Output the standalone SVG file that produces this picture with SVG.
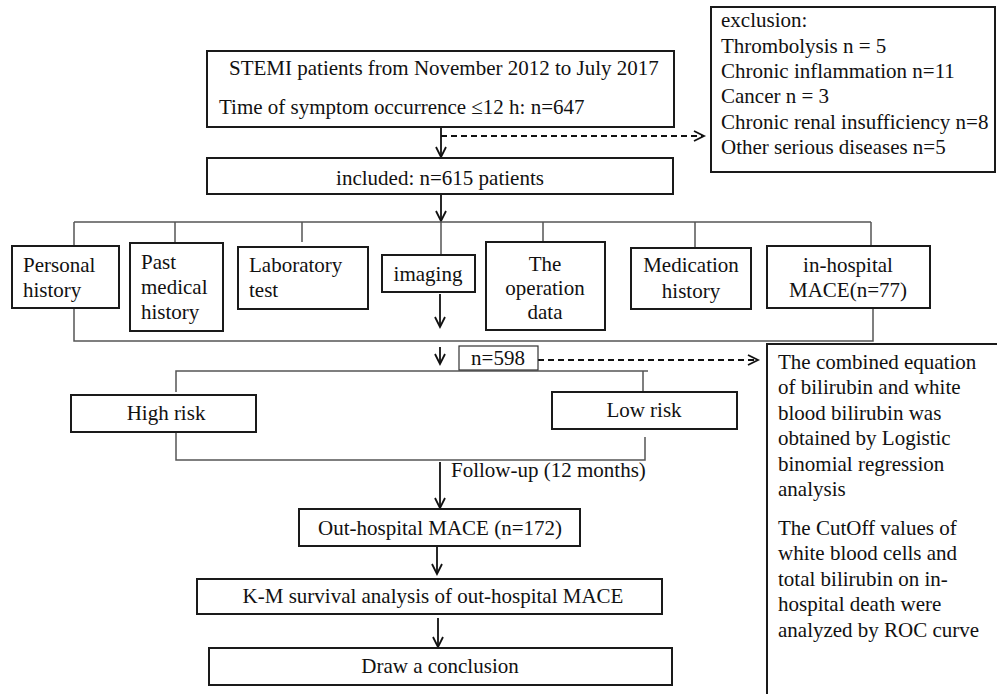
<svg xmlns="http://www.w3.org/2000/svg" width="997" height="694" viewBox="0 0 997 694">
<defs>
<marker id="arr" markerUnits="userSpaceOnUse" markerWidth="14" markerHeight="14" refX="11" refY="6" orient="auto">
<path d="M1,1 L11,6 L1,11" fill="none" stroke="#111" stroke-width="1.8"/>
</marker>
</defs>
<style>
.box{fill:#fff;stroke:#1a1a1a;stroke-width:2}
.thin{fill:#fff;stroke:#333;stroke-width:1.2}
.ln{fill:none;stroke:#555;stroke-width:1.5}
.ar{fill:none;stroke:#111;stroke-width:1.8}
.da{fill:none;stroke:#111;stroke-width:1.8;stroke-dasharray:6 4}
text{font-family:'Liberation Serif','DejaVu Serif',serif;font-size:21px;fill:#111}
.m{text-anchor:middle}
</style>
<rect width="997" height="694" fill="#fff"/>
<g id="connectors">
<line class="ar" x1="441" y1="127" x2="441" y2="157" marker-end="url(#arr)"/>
<line class="da" x1="441" y1="136" x2="704" y2="136" marker-end="url(#arr)"/>
<line class="ar" x1="441" y1="194" x2="441" y2="221" marker-end="url(#arr)"/>
<path class="ln" d="M74,222 H871"/>
<path class="ln" d="M74,222 V246 M175,222 V243 M302,222 V242 M441,222 V255 M543,222 V241 M695,222 V247 M871,222 V246"/>
<path class="ln" d="M74,308 V341 H873 V308"/>
<line class="ar" x1="440" y1="294" x2="440" y2="327" marker-end="url(#arr)"/>
<line class="ar" x1="440" y1="347" x2="440" y2="364" marker-end="url(#arr)"/>
<line class="da" x1="538" y1="360" x2="758" y2="360" marker-end="url(#arr)"/>
<path class="ln" d="M176,392 V371 H648 M643,371 V392"/>
<path class="ln" d="M176,432 V460 H645 V437"/>
<line class="ar" x1="440" y1="462" x2="440" y2="508" marker-end="url(#arr)"/>
<line class="ar" x1="437" y1="546" x2="437" y2="574" marker-end="url(#arr)"/>
<line class="ar" x1="438" y1="618" x2="438" y2="647" marker-end="url(#arr)"/>
</g>
<g id="start">
<rect class="box" x="207" y="51" width="467" height="76"/>
<text x="229" y="75">STEMI patients from November 2012 to July 2017</text>
<text x="219" y="114">Time of symptom occurrence ≤12 h: n=647</text>
</g>
<g id="exclusion">
<rect class="box" x="711" y="7" width="284" height="165"/>
<text x="721" y="27">exclusion:</text>
<text x="721" y="53">Thrombolysis n = 5</text>
<text x="721" y="78">Chronic inflammation n=11</text>
<text x="721" y="103">Cancer n = 3</text>
<text x="721" y="129">Chronic renal insufficiency n=8</text>
<text x="721" y="154">Other serious diseases n=5</text>
</g>
<g id="included">
<rect class="box" x="207" y="158" width="466" height="36"/>
<text class="m" x="440" y="185">included: n=615 patients</text>
</g>
<g id="personal">
<rect class="box" x="12" y="246" width="107" height="62"/>
<text x="23" y="272">Personal</text>
<text x="23" y="297">history</text>
</g>
<g id="past">
<rect class="box" x="130" y="243" width="93" height="88"/>
<text x="141" y="269">Past</text>
<text x="141" y="294">medical</text>
<text x="141" y="319">history</text>
</g>
<g id="lab">
<rect class="box" x="238" y="247" width="130" height="62"/>
<text x="249" y="272">Laboratory</text>
<text x="249" y="297">test</text>
</g>
<g id="imaging">
<rect class="box" x="382" y="255" width="93" height="37"/>
<text class="m" x="428" y="281">imaging</text>
</g>
<g id="operation">
<rect class="box" x="486" y="242" width="119" height="88"/>
<text class="m" x="545" y="271">The</text>
<text class="m" x="545" y="295">operation</text>
<text class="m" x="545" y="319">data</text>
</g>
<g id="medication">
<rect class="box" x="631" y="248" width="120" height="61"/>
<text class="m" x="691" y="272">Medication</text>
<text class="m" x="691" y="298">history</text>
</g>
<g id="inhospital">
<rect class="box" x="767" y="246" width="163" height="62"/>
<text class="m" x="848" y="272">in-hospital</text>
<text class="m" x="848" y="297">MACE(n=77)</text>
</g>
<g id="n598">
<rect class="thin" x="459" y="346" width="79" height="24"/>
<text class="m" x="498" y="365">n=598</text>
</g>
<g id="analysis">
<rect class="box" x="767" y="344" width="250" height="380"/>
<text x="778" y="369">The combined equation</text>
<text x="778" y="394">of bilirubin and white</text>
<text x="778" y="420">blood bilirubin was</text>
<text x="778" y="445">obtained by Logistic</text>
<text x="778" y="471">binomial regression</text>
<text x="778" y="496">analysis</text>
<text x="778" y="535">The CutOff values of</text>
<text x="778" y="560">white blood cells and</text>
<text x="778" y="586">total bilirubin on in-</text>
<text x="778" y="611">hospital death were</text>
<text x="778" y="637">analyzed by ROC curve</text>
</g>
<g id="high">
<rect class="box" x="71" y="395" width="185" height="37"/>
<text class="m" x="166" y="420">High risk</text>
</g>
<g id="low">
<rect class="box" x="552" y="392" width="185" height="37"/>
<text class="m" x="644" y="417">Low risk</text>
</g>
<text x="451" y="477">Follow-up (12 months)</text>
<g id="outhospital">
<rect class="box" x="299" y="509" width="281" height="37"/>
<text class="m" x="440" y="535">Out-hospital MACE (n=172)</text>
</g>
<g id="km">
<rect class="box" x="197" y="579" width="465" height="35"/>
<text class="m" x="433" y="603">K-M survival analysis of out-hospital MACE</text>
</g>
<g id="conclusion">
<rect class="box" x="209" y="648" width="463" height="37"/>
<text class="m" x="440" y="673">Draw a conclusion</text>
</g>
</svg>
